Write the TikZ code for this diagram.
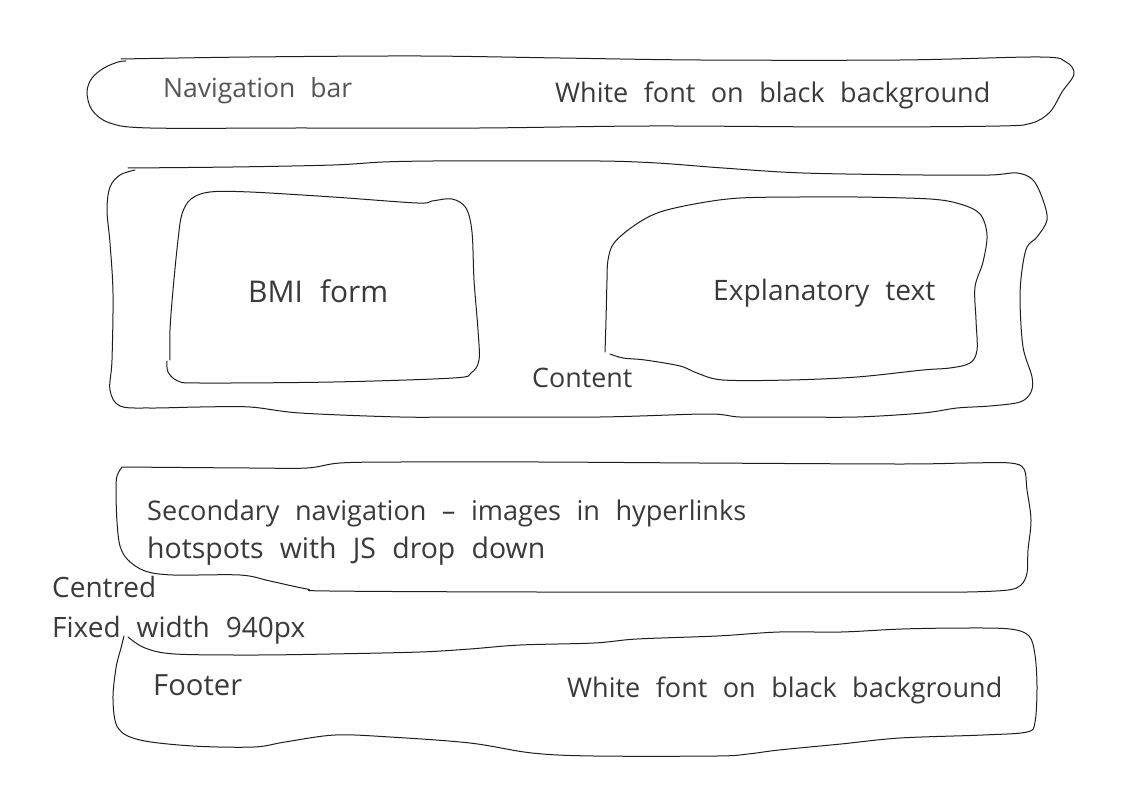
\documentclass[tikz,border=0pt]{standalone}
\usepackage{fontspec}
\setmainfont{Open Sans}[WordSpace=2.2]
\usepackage{graphicx}
\definecolor{ink}{HTML}{1E1E1E}
\definecolor{txt}{HTML}{3A3A3A}
\definecolor{lighttxt}{HTML}{555555}
\newcommand{\fitw}[2]{\resizebox{#1pt}{!}{#2}}
\begin{document}
\begin{tikzpicture}[x=1pt,y=-1pt,
  sketch/.style={draw=ink,line width=1pt,line join=round,line cap=round},
  label/.style={anchor=base west,inner sep=0pt,text=txt},
  lightlabel/.style={anchor=base west,inner sep=0pt,text=lighttxt}]
\useasboundingbox[fill=white] (0,0) rectangle (1123,794);

% Navigation bar
\draw[sketch] plot[smooth,tension=0.55] coordinates {(121,59)(250,57)(420,56)(560,58)(700,60)(900,60)(1040,57)(1066,62)(1074,74)(1062,92)(1050,112)(1032,123)(1000,126)(850,127)(650,126)(480,128)(300,128)(150,128)(110,123)(92,110)(87,92)(92,78)(104,68)(118,62)(126,61)};
\node[lightlabel] (navlbl) at (163,98) {\fitw{189}{Navigation bar}};
\node[label] (navnote) at (555,103) {\fitw{435}{White font on black background}};

% Content outer
\draw[sketch] plot[smooth,tension=0.55] coordinates {(128,168)(233,167)(333,165)(383,162)(433,161)(500,161)(600,161)(657,163)(723,168)(803,173)(923,175)(990,175)(1017,173)(1033,180)(1043,200)(1047,220)(1037,237)(1027,247)(1022,270)(1020,300)(1023,347)(1032,377)(1031,392)(1020,402)(990,406)(957,408)(923,413)(857,417)(790,417)(740,417)(707,414)(600,417)(467,417)(400,417)(300,413)(250,407)(200,407)(150,408)(120,406)(110,390)(112,360)(113,293)(110,243)(107,210)(110,187)(120,175)(135,170)};
\node[label] (contentlbl) at (532,387) {\fitw{100}{Content}};

% BMI form
\draw[sketch] plot[smooth,tension=0.55] coordinates {(167,361)(168,372)(178,381)(200,383)(333,382)(453,378)(471,373)(479,360)(478,330)(474,280)(472,232)(466,208)(452,199)(432,201)(417,203)(333,197)(250,192)(210,192)(191,199)(182,214)(178,240)(173,290)(170,330)(170,360)};
\node[label] (bmilbl) at (248,302) {\fitw{140}{BMI form}};

% Explanatory text
\draw[sketch] plot[smooth,tension=0.55] coordinates {(605,352)(606,320)(607,280)(608,260)(614,243)(635,225)(660,212)(700,203)(740,198)(800,197)(857,197)(930,199)(960,204)(980,214)(987,235)(983,262)(975,287)(976,320)(977,350)(970,363)(950,368)(923,370)(857,377)(790,380)(723,380)(697,373)(680,366)(645,360)(623,358)(610,354)};
\node[label] (expllbl) at (713,300) {\fitw{222}{Explanatory text}};

% Secondary navigation
\draw[sketch] plot[smooth,tension=0.55] coordinates {(122,467)(250,468)(307,468)(340,463)(400,462)(540,462)(700,463)(900,464)(967,463)(1010,463)(1024,469)(1027,490)(1031,520)(1028,550)(1027,573)(1021,585)(1008,590)(967,592)(900,592)(540,592)(330,591)(307,589)(270,581)(240,575)(173,575)(145,571)(128,560)(120,546)(117,522)(116,490)(117,476)(122,467)};
\node[label] (sec1) at (147,520) {\fitw{599}{Secondary navigation -- images in hyperlinks}};
\node[label] (sec2) at (147,558) {\fitw{398}{hotspots with JS drop down}};

% Side notes
\node[label] (centred) at (52,597) {\fitw{104}{Centred}};
\node[label] (fixedw) at (52,637) {\fitw{253}{Fixed width 940px}};

% Footer
\draw[sketch] plot[smooth,tension=0.55] coordinates {(128,637)(145,648)(175,654)(254,655)(330,654)(420,652)(470,649)(520,645)(594,643)(637,639)(717,636)(779,632)(841,632)(902,629)(964,628)(1010,629)(1029,636)(1035,655)(1037,687)(1035,722)(1027,732)(983,735)(900,738)(841,744)(779,750)(748,754)(717,756)(594,756)(532,753)(470,743)(390,737)(335,735)(285,742)(254,747)(193,746)(140,740)(118,728)(113,700)(116,668)(121,648)(124,636)};
\node[label] (footerlbl) at (153,695) {\fitw{89}{Footer}};
\node[label] (footnote) at (567,697) {\fitw{435}{White font on black background}};
\end{tikzpicture}
\end{document}
